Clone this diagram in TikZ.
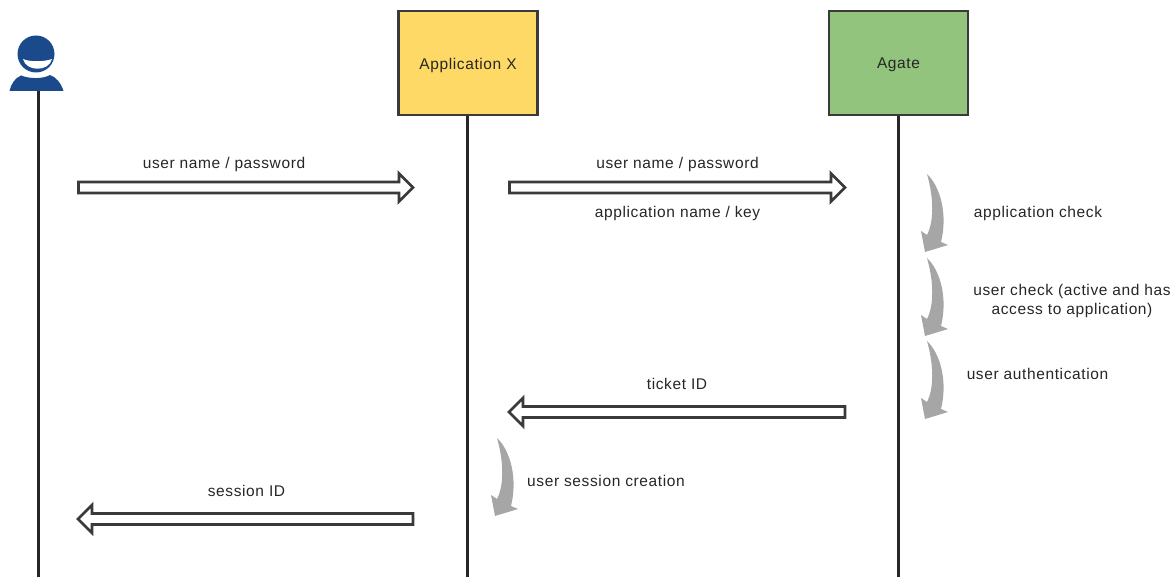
\documentclass[tikz,border=0pt]{standalone}
\usepackage{fontspec}
\setmainfont[LetterSpace=4]{Liberation Sans}
\usetikzlibrary{calc}
\definecolor{appyellow}{HTML}{FFD966}
\definecolor{agategreen}{HTML}{93C47D}
\definecolor{boxborder}{HTML}{3A3A3A}
\definecolor{userblue}{HTML}{1A4A8C}
\definecolor{turngray}{HTML}{A6A6A6}
\tikzset{
  actorbox/.style={draw=boxborder, line width=2.4pt, minimum width=139pt, minimum height=104pt, inner sep=0pt},
  lifeline/.style={draw=black!85, line width=2.6pt},
  msglabel/.style={inner sep=0pt, yshift=-1pt, font=\fontsize{15.5pt}{19.5pt}\selectfont, text=black!85, align=center},
  blockarrow/.style={draw=boxborder, line width=2.8pt, fill=white, miter limit=6,
    to path={let \p1=(\tikztostart), \p2=(\tikztotarget), \n1={\x2>\x1 ? 1 : -1} in
      (\x1,\y1+5.5pt) -- (\x2-\n1*14pt,\y1+5.5pt) -- (\x2-\n1*14pt,\y1+14pt) -- (\x2,\y1)
      -- (\x2-\n1*14pt,\y1-14pt) -- (\x2-\n1*14pt,\y1-5.5pt) -- (\x1,\y1-5.5pt) -- cycle}},
  turnarrow/.pic={
    \fill[turngray] (0,0) .. controls (13,12) and (21,40) .. (14,68)
      -- (21,71) -- (-2,78) -- (-6,57) -- (0,61)
      .. controls (7,47) and (7,25) .. (0,0);
  }
}
\begin{document}
\begin{tikzpicture}[x=1pt, y=-1pt]
    \useasboundingbox (0,0) rectangle (1176,577);
    % participants
    \node[actorbox, fill=appyellow] (appx) at (468,63) {};
    \node[msglabel] (appxname) at (468,64) {Application X};
    \node[actorbox, fill=agategreen] (agate) at (898.5,63) {};
    \node[msglabel] (agatename) at (898.5,64) {Agate};
    \coordinate (user) at (38.5,90);
    \coordinate (userend) at (38.5,577);
    \coordinate (appxend) at (467.5,577);
    \coordinate (agateend) at (898.5,577);
    \draw[lifeline] (user) -- (userend);
    \draw[lifeline] (appx.south -| appxend) -- (appxend);
    \draw[lifeline] (agate) -- (agateend);
    % user icon
    \fill[userblue] (36,54) circle (18.5);
    \fill[white] (23,59) .. controls (29,62) and (44,62) .. (52,59)
      .. controls (49,72) and (26,72) .. (23,59) -- cycle;
    \fill[userblue] (9.5,91) .. controls (11,84) and (15,78) .. (21,75.5)
      .. controls (30,79) and (43,79) .. (50,75)
      .. controls (56,77) and (61,83) .. (63.5,91) -- cycle;
    % messages
    \coordinate (m1a) at (78.5,187.5);
    \coordinate (m1b) at (413,187.5);
    \coordinate (m2a) at (509.5,187.5);
    \coordinate (m2b) at (845,187.5);
    \coordinate (m3a) at (845,412);
    \coordinate (m3b) at (509,412);
    \coordinate (m4a) at (413,519);
    \coordinate (m4b) at (78,519);
    \draw[blockarrow] (m1a) to (m1b);
    \draw[blockarrow] (m2a) to (m2b);
    \draw[blockarrow] (m3a) to (m3b);
    \draw[blockarrow] (m4a) to (m4b);
    \node[msglabel] (l1) at (224,163) {user name / password};
    \node[msglabel] (l2) at (677.5,163) {user name / password};
    \node[msglabel] (l3) at (677.5,212) {application name / key};
    \node[msglabel] (l4) at (677,383) {ticket ID};
    \node[msglabel] (l5) at (246.5,490) {session ID};
    % checks
    \pic at (927,174) {turnarrow};
    \pic at (927,258) {turnarrow};
    \pic at (927,341) {turnarrow};
    \pic at (497,438) {turnarrow};
    \node[msglabel] (c1) at (1038,212) {application check};
    \node[msglabel] (c2) at (1072,300) {user check (active and has\\access to application)};
    \node[msglabel] (c3) at (1037.5,373) {user authentication};
    \node[msglabel] (c4) at (606,480) {user session creation};
\end{tikzpicture}
\end{document}
